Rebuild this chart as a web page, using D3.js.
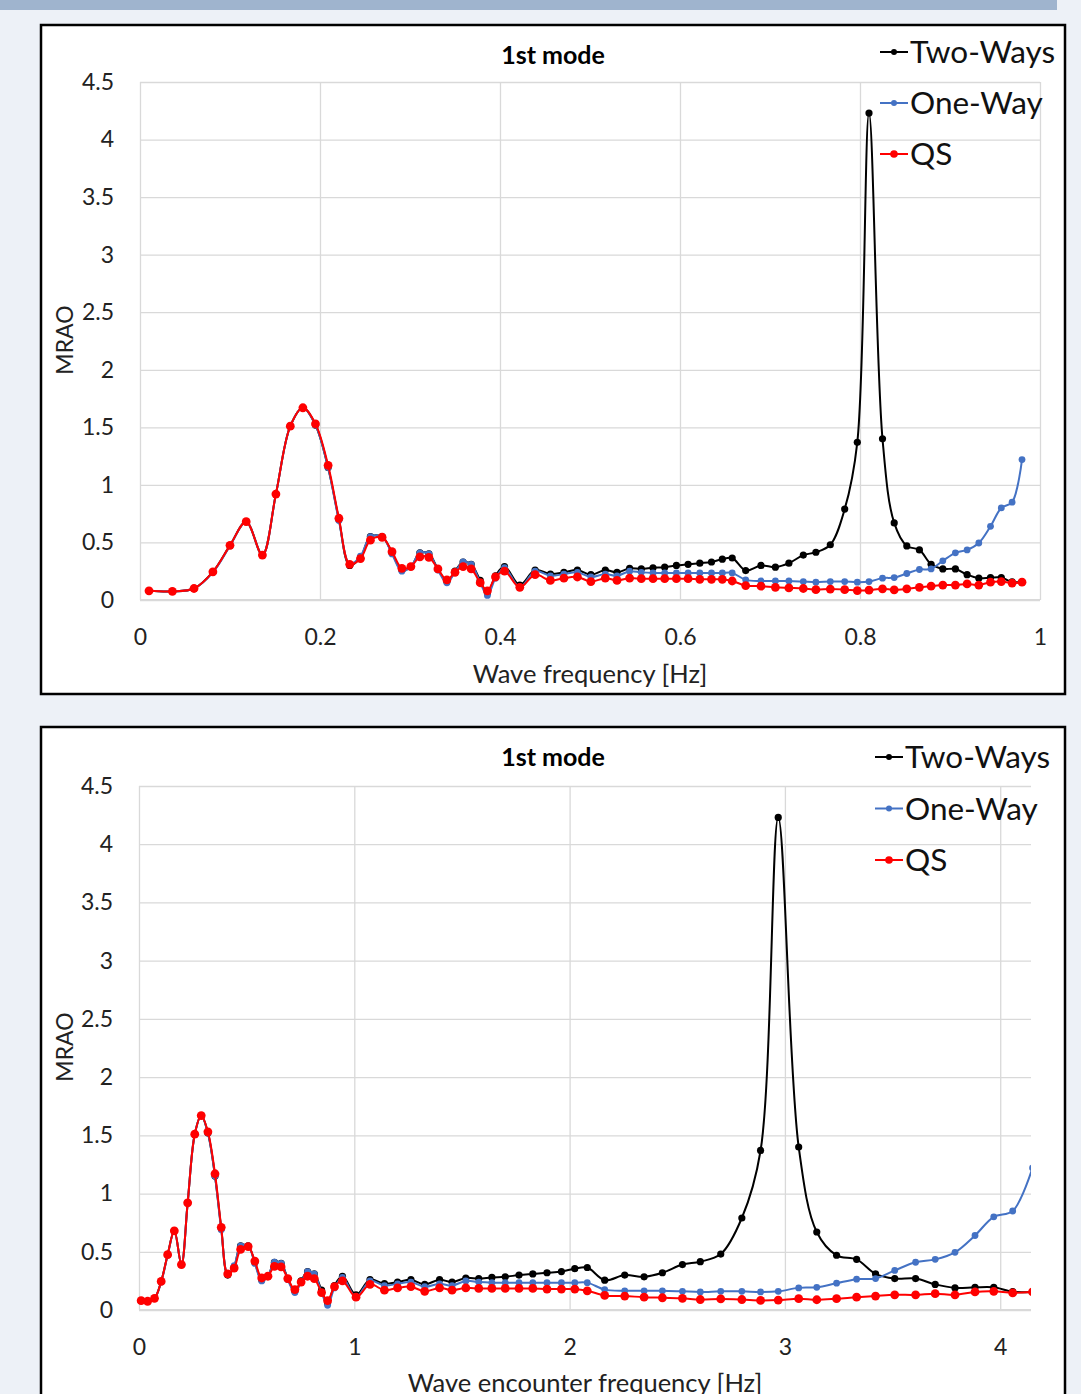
<!DOCTYPE html>
<html>
<head>
<meta charset="utf-8">
<script src="https://cdn.jsdelivr.net/npm/d3@7"></script>
<style>
  body { margin: 0; background: #edf1f7; }
  svg { display: block; font-family: Lato, "Open Sans", sans-serif; }
</style>
</head>
<body>
<div id="chart"></div>
<script>
// wave frequency [Hz] (top panel x)
var freqWave = [0.010, 0.036, 0.060, 0.081, 0.100, 0.118, 0.136, 0.151, 0.167, 0.181,
  0.195, 0.209, 0.221, 0.233, 0.245, 0.256, 0.269, 0.280, 0.291, 0.301,
  0.311, 0.321, 0.331, 0.341, 0.350, 0.359, 0.368, 0.378, 0.386, 0.395,
  0.405, 0.422, 0.439, 0.456, 0.471, 0.486, 0.501, 0.517, 0.530, 0.544,
  0.557, 0.570, 0.583, 0.596, 0.609, 0.622, 0.635, 0.647, 0.658, 0.673,
  0.690, 0.706, 0.721, 0.737, 0.751, 0.767, 0.783, 0.797, 0.810, 0.825,
  0.838, 0.852, 0.866, 0.879, 0.892, 0.906, 0.919, 0.932, 0.945, 0.957,
  0.969, 0.980];

// wave encounter frequency [Hz] (bottom panel x)
var freqEncounter = [0.010, 0.040, 0.072, 0.103, 0.133, 0.164, 0.197, 0.226, 0.259, 0.289,
  0.320, 0.353, 0.382, 0.412, 0.442, 0.472, 0.507, 0.538, 0.570, 0.599,
  0.629, 0.660, 0.691, 0.724, 0.753, 0.783, 0.814, 0.848, 0.876, 0.908,
  0.945, 1.008, 1.073, 1.140, 1.201, 1.263, 1.327, 1.396, 1.454, 1.518,
  1.578, 1.639, 1.701, 1.765, 1.829, 1.895, 1.962, 2.024, 2.082, 2.163,
  2.256, 2.346, 2.431, 2.524, 2.607, 2.702, 2.800, 2.887, 2.969, 3.064,
  3.148, 3.240, 3.333, 3.421, 3.510, 3.607, 3.698, 3.790, 3.883, 3.970,
  4.058, 4.150];

var twoWays = [0.08, 0.075, 0.10, 0.245, 0.475, 0.68, 0.39, 0.92, 1.51, 1.67,
  1.52, 1.15, 0.70, 0.30, 0.37, 0.55, 0.55, 0.41, 0.26, 0.29,
  0.41, 0.40, 0.27, 0.16, 0.25, 0.33, 0.31, 0.17, 0.06, 0.21,
  0.29, 0.13, 0.26, 0.226, 0.24, 0.26, 0.22, 0.26, 0.24, 0.275,
  0.27, 0.28, 0.285, 0.30, 0.31, 0.32, 0.33, 0.355, 0.365, 0.256,
  0.30, 0.285, 0.32, 0.39, 0.415, 0.48, 0.79, 1.37, 4.23, 1.40,
  0.67, 0.47, 0.435, 0.31, 0.27, 0.27, 0.22, 0.19, 0.195, 0.195,
  0.157, 0.156];

var oneWay = [0.08, 0.075, 0.10, 0.24, 0.47, 0.68, 0.39, 0.92, 1.51, 1.67,
  1.52, 1.15, 0.69, 0.31, 0.38, 0.55, 0.55, 0.40, 0.25, 0.29,
  0.41, 0.40, 0.26, 0.15, 0.24, 0.33, 0.31, 0.15, 0.04, 0.19,
  0.28, 0.11, 0.25, 0.21, 0.225, 0.24, 0.20, 0.225, 0.21, 0.25,
  0.24, 0.235, 0.235, 0.235, 0.235, 0.235, 0.235, 0.235, 0.235, 0.175,
  0.165, 0.165, 0.165, 0.16, 0.155, 0.16, 0.16, 0.155, 0.16, 0.19,
  0.195, 0.23, 0.265, 0.27, 0.34, 0.41, 0.435, 0.495, 0.64, 0.80,
  0.85, 1.22];

var qs = [0.08, 0.075, 0.10, 0.245, 0.475, 0.68, 0.39, 0.92, 1.51, 1.67,
  1.53, 1.17, 0.71, 0.31, 0.36, 0.52, 0.545, 0.42, 0.275, 0.29,
  0.375, 0.37, 0.27, 0.175, 0.24, 0.29, 0.27, 0.15, 0.08, 0.20,
  0.25, 0.11, 0.22, 0.17, 0.19, 0.20, 0.16, 0.19, 0.17, 0.19,
  0.185, 0.185, 0.185, 0.185, 0.185, 0.18, 0.18, 0.18, 0.165, 0.125,
  0.12, 0.11, 0.105, 0.10, 0.09, 0.095, 0.09, 0.082, 0.085, 0.097,
  0.088, 0.097, 0.11, 0.12, 0.13, 0.13, 0.14, 0.13, 0.155, 0.16,
  0.147, 0.155];

var seriesNames = ["Two-Ways", "One-Way", "QS"];
var yTicks = [0, 0.5, 1, 1.5, 2, 2.5, 3, 3.5, 4, 4.5];
var xTicksTop = [0, 0.2, 0.4, 0.6, 0.8, 1];
var xTicksBottom = [0, 1, 2, 3, 4];

var width = 1081, height = 1394;
var colors = { "Two-Ways": "#000000", "One-Way": "#4472c4", "QS": "#ff0000" };
var dotR = { "Two-Ways": 3.6, "One-Way": 3.4, "QS": 4.4 };
var legendR = { "Two-Ways": 3, "One-Way": 3, "QS": 3.8 };

var svg = d3.select("#chart").append("svg")
  .attr("width", width)
  .attr("height", height);

svg.append("rect").attr("width", width).attr("height", height).attr("fill", "#edf1f7");
svg.append("rect").attr("x", 0).attr("y", 0).attr("width", 1057).attr("height", 10).attr("fill", "#9fb4ce");

var fmt = d3.format("~g");
var panelNo = 0;

function drawPanel(p) {
  var g = svg.append("g");
  panelNo++;

  g.append("rect")
    .attr("x", p.frame[0]).attr("y", p.frame[1])
    .attr("width", p.frame[2]).attr("height", p.frame[3])
    .attr("fill", "#fff").attr("stroke", "#000").attr("stroke-width", 2.5);

  var x = d3.scaleLinear().domain(p.xDomain).range([p.left, p.right]);
  var y = d3.scaleLinear().domain([0, 4.5]).range([p.bottom, p.top]);

  // gridlines + labels via axes
  var yAxis = g.append("g")
    .attr("transform", "translate(" + p.left + ",0)")
    .call(d3.axisLeft(y).tickValues(yTicks).tickSize(-(p.right - p.left)).tickPadding(26).tickFormat(fmt));
  var xAxis = g.append("g")
    .attr("transform", "translate(0," + p.bottom + ")")
    .call(d3.axisBottom(x).tickValues(p.xTicks).tickSize(-(p.bottom - p.top)).tickPadding(29).tickFormat(fmt));

  [yAxis, xAxis].forEach(function(a) {
    a.select(".domain").remove();
    a.selectAll(".tick line").attr("stroke", "#d9d9d9").attr("stroke-width", 1.3);
    a.selectAll(".tick text")
      .attr("fill", "#222")
      .style("font-size", "23px")
      .style("font-family", "Lato, 'Open Sans', sans-serif");
  });
  g.append("line").attr("x1", p.left).attr("x2", p.right).attr("y1", p.bottom).attr("y2", p.bottom)
    .attr("stroke", "#d9d9d9").attr("stroke-width", 2);

  // title
  g.append("text")
    .attr("x", 553).attr("y", p.titleY)
    .attr("text-anchor", "middle")
    .style("font-size", "25px").style("font-weight", "bold")
    .text("1st mode");

  // axis titles
  g.append("text")
    .attr("transform", "translate(73," + p.yLabelY + ") rotate(-90)")
    .attr("text-anchor", "middle")
    .style("font-size", "23px")
    .attr("fill", "#222")
    .text("MRAO");
  g.append("text")
    .attr("x", (p.left + p.right) / 2).attr("y", p.xLabelY)
    .attr("text-anchor", "middle")
    .style("font-size", "25.5px")
    .attr("fill", "#222")
    .text(p.xTitle);

  var series = [
    { name: "Two-Ways", values: twoWays },
    { name: "One-Way", values: oneWay },
    { name: "QS", values: qs }
  ];

  var line = d3.line()
    .x(function(d, i) { return x(p.xs[i]); })
    .y(function(d) { return y(d); })
    .curve(d3.curveCatmullRom.alpha(0.5));

  // clip series to the plot area
  var clipId = "clip" + panelNo;
  g.append("clipPath").attr("id", clipId)
    .append("rect")
    .attr("x", p.left - 6).attr("y", p.top - 10)
    .attr("width", p.clipRight - p.left + 6).attr("height", p.bottom - p.top + 20);

  var plot = g.append("g").attr("clip-path", "url(#" + clipId + ")");

  series.forEach(function(s) {
    var sg = plot.append("g");
    sg.append("path")
      .datum(s.values)
      .attr("d", line)
      .attr("fill", "none")
      .attr("stroke", colors[s.name])
      .attr("stroke-width", 2);
    sg.selectAll("circle")
      .data(s.values)
      .enter()
      .append("circle")
      .attr("cx", function(d, i) { return x(p.xs[i]); })
      .attr("cy", function(d) { return y(d); })
      .attr("r", dotR[s.name])
      .attr("fill", colors[s.name]);
  });

  // legend
  var lg = g.append("g");
  seriesNames.forEach(function(name, i) {
    var ly = p.legendY + i * p.legendStep;
    lg.append("line")
      .attr("x1", p.legendX).attr("x2", p.legendX + 28)
      .attr("y1", ly).attr("y2", ly)
      .attr("stroke", colors[name]).attr("stroke-width", 2);
    lg.append("circle")
      .attr("cx", p.legendX + 14).attr("cy", ly)
      .attr("r", legendR[name]).attr("fill", colors[name]);
    lg.append("text")
      .attr("x", p.legendX + 30).attr("y", ly)
      .attr("dy", "0.35em")
      .style("font-size", "31.5px")
      .attr("fill", "#111")
      .text(name);
  });
}

drawPanel({
  frame: [41, 25, 1024, 669],
  left: 140, right: 1040, top: 82, bottom: 600, clipRight: 1060,
  xDomain: [0, 1], xTicks: xTicksTop, xs: freqWave,
  xTitle: "Wave frequency [Hz]",
  titleY: 64, yLabelY: 340, xLabelY: 683,
  legendX: 880, legendY: 52, legendStep: 51
});

drawPanel({
  frame: [41, 727, 1024, 720],
  left: 139, right: 1031, top: 786, bottom: 1310, clipRight: 1031,
  xDomain: [0, 4.143], xTicks: xTicksBottom, xs: freqEncounter,
  xTitle: "Wave encounter frequency [Hz]",
  titleY: 766, yLabelY: 1047, xLabelY: 1392,
  legendX: 875, legendY: 757, legendStep: 51.5
});
</script>
</body>
</html>
